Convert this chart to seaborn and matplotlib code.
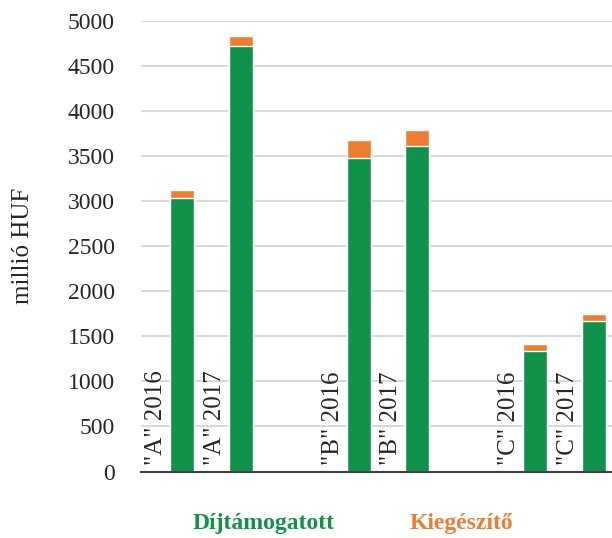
import matplotlib

matplotlib.use("Agg")
import matplotlib.pyplot as plt
import pandas as pd
import seaborn as sns

# values (millió HUF)
groups = ["A", "B", "C"]
years = [2016, 2017]
dijtamogatott = [3030, 4720, 3480, 3610, 1340, 1675]
kiegeszito = [95, 110, 200, 180, 75, 70]

GREEN = "#10924A"
ORANGE = "#ED7D31"

rows = []
i = 0
for g_idx, group in enumerate(groups):
    for y_idx, year in enumerate(years):
        rows.append(
            {
                "pos": g_idx * 3 + y_idx,
                "label": f'"{group}" {year}',
                "dij": dijtamogatott[i],
                "total": dijtamogatott[i] + kiegeszito[i],
            }
        )
        i += 1
df = pd.DataFrame(rows)

sns.set_style("white")
plt.rcParams["font.family"] = ["Liberation Serif", "DejaVu Serif"]

fig = plt.figure(figsize=(6.12, 5.38), dpi=100)
ax = fig.add_axes([141 / 612, 1 - 471.5 / 538, 471 / 612, 450.5 / 538])

sns.barplot(data=df, x="pos", y="total", native_scale=True, color=ORANGE, width=0.41,
            saturation=1, label="Kiegészítő", ax=ax)
sns.barplot(data=df, x="pos", y="dij", native_scale=True, color=GREEN, width=0.41,
            saturation=1, label="Díjtámogatott", ax=ax)

ax.set_xlim(-0.7, 7.31)
ax.set_ylim(0, 5000)
ax.set_yticks(range(0, 5001, 500))
ax.set_xticks([])
ax.set_xlabel("")
ax.set_ylabel("millió HUF", fontsize=18)
ax.yaxis.set_label_coords(-0.2505, 0.5)
ax.yaxis.label.set_va("center")
ax.tick_params(axis="y", length=0, pad=19, labelsize=17)
ax.grid(axis="y", color="#D9D9D9", linewidth=1.5)
ax.set_axisbelow(True)
for side in ["left", "right", "top"]:
    ax.spines[side].set_visible(False)
ax.spines["bottom"].set_color("#404040")
ax.spines["bottom"].set_linewidth(1.5)

for _, row in df.iterrows():
    ax.text(row["pos"] - 0.44, 70, row["label"], rotation=90, ha="center", va="bottom",
            fontsize=18)

handles, labels = ax.get_legend_handles_labels()
order = [labels.index("Díjtámogatott"), labels.index("Kiegészítő")]
leg = ax.legend([handles[k] for k in order], [labels[k] for k in order],
                loc="center", bbox_to_anchor=(0.577, 0.028), bbox_transform=fig.transFigure,
                ncol=2, frameon=False, handlelength=0, handletextpad=0, columnspacing=3.2,
                prop={"size": 17, "weight": "bold"})
for text, color in zip(leg.get_texts(), [GREEN, ORANGE]):
    text.set_color(color)
for h in leg.legend_handles:
    h.set_visible(False)

fig.savefig("out.png", dpi=100)
